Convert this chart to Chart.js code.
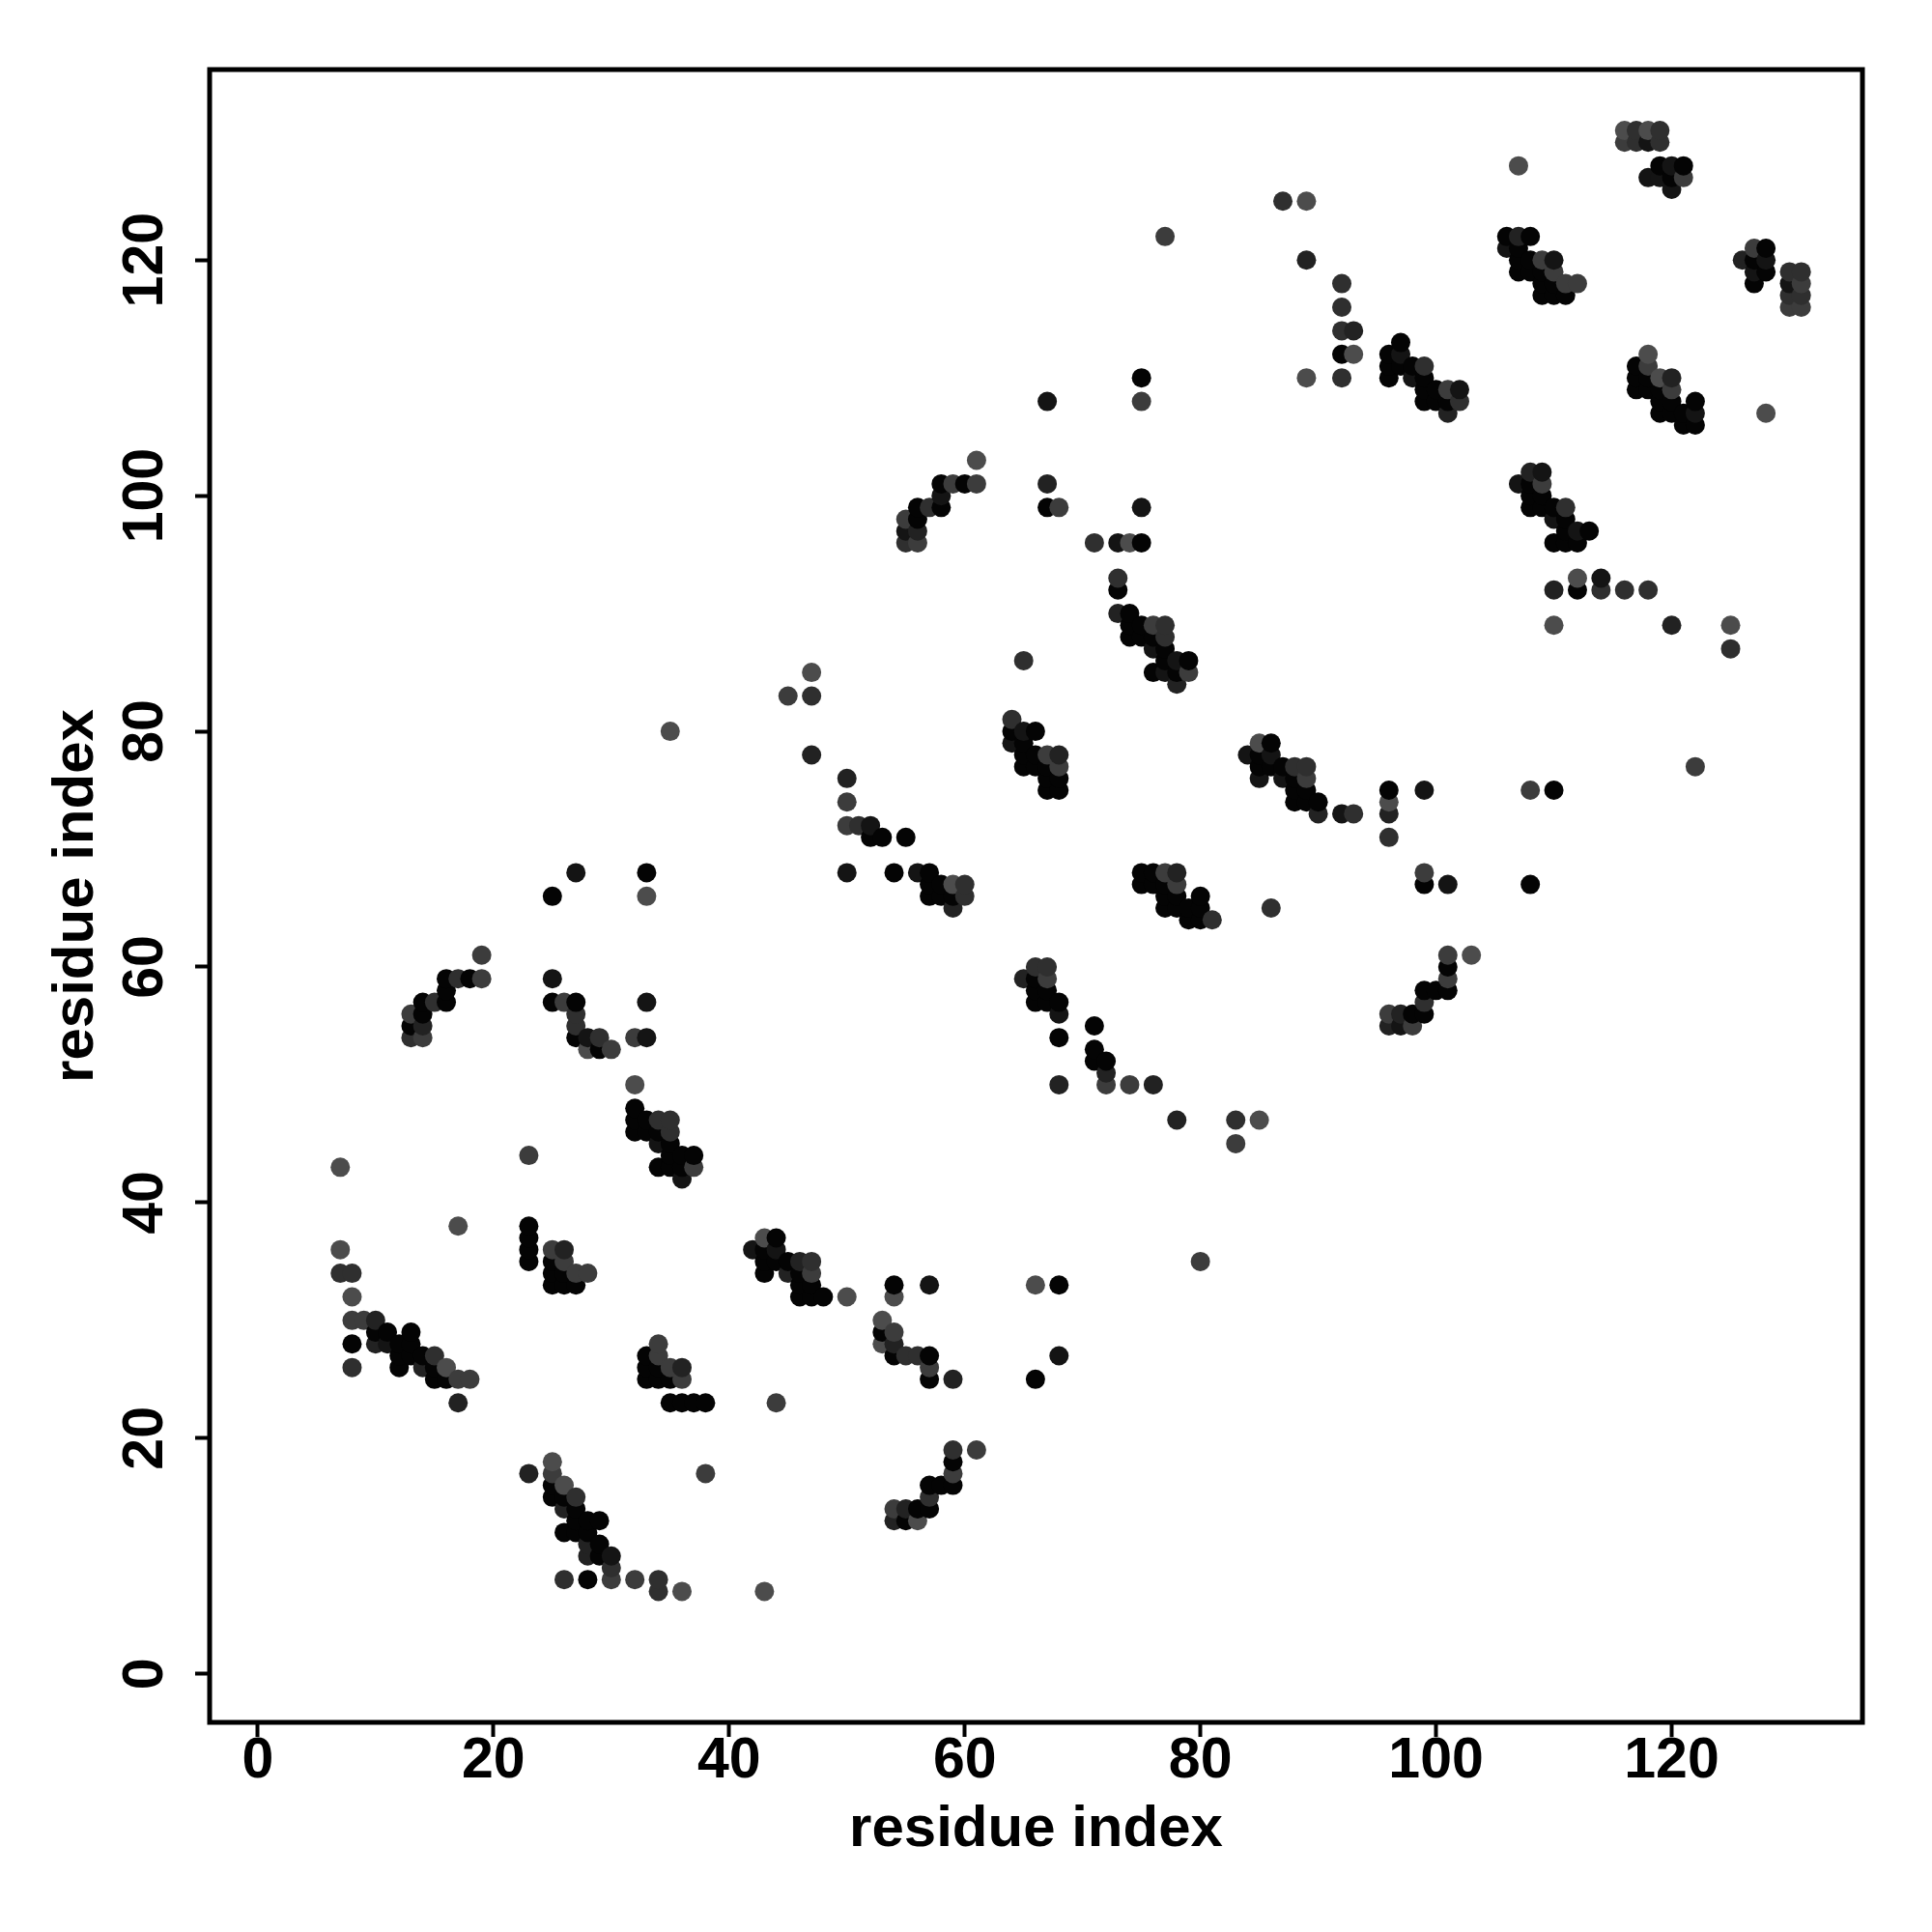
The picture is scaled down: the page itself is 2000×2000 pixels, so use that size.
<!DOCTYPE html>
<html>
<head>
<meta charset="utf-8">
<script src="https://cdn.jsdelivr.net/npm/chart.js@4"></script>
<style>html,body{margin:0;padding:0;background:#fff}canvas{display:block}</style>
</head>
<body>
<canvas id="c" width="2000" height="2000"></canvas>
<script>
const tickValues = [0,20,40,60,80,100,120];
const axisTitle = "residue index";
const residueColumns = [7,8,9,10,11,12,13,14,15,16,17,18,19,23,25,26,27,28,29,30,32,33,34,35,36,37,38,42,43,44,45,46,47,48,50,51,52,53,54,55,56,57,58,59,60,61,64,65,66,67,68,71,72,73,74,75,76,77,78,79,80,81,83,84,85,86,87,88,89,90,92,93,96,97,98,99,100,101,102,103,106,107,108,109,110,111,112,113,114,116,117,118,119,120,121,122,125,126,127,128,130,131];
const partnerRows = [
[34,36,43],[26,28,30,32,34],[30],[28,29,30],[28,29],[26,27,28],[27,28,29,54,55,56],[26,27,54,55,56,57],[25,26,27,57],[25,26,57,58,59],
[23,25,38,59],[25,59],[59,61],[17,35,36,37,38,44],[15,16,17,18,33,34,35,36,57,59,66],[8,12,14,15,16,33,34,35,36,57],[12,13,14,15,33,34,54,55,56,57,68],[8,10,11,12,13,34,53,54],[10,11,13,53,54],[8,9,10,53],
[8,46,47,48,50,54],[25,26,27,46,47,54,57,66,68],[7,8,25,26,27,28,43,45,46,47],[23,25,26,43,44,45,46,47,80],[7,23,25,26,42,43,44],[23,43,44],[17,23],[36],[7,34,35,36,37],[23,35,36,37],
[34,35,83],[32,33,34,35],[32,33,34,35,78,83,85],[32],[32,68,72,74,76],[72],[71,72],[28,29,30,71],[13,14,27,28,29,32,33,68],[13,14,27,71,96,97,98],
[13,14,27,68,96,97,98,99],[14,15,16,25,26,27,33,66,67,68,99],[16,66,67,99,100,101],[16,17,18,19,25,65,66,67,101],[66,67,101],[19,101,103],[79,80,81],[59,77,78,79,80,86],[25,33,57,58,59,60,77,78,80],[57,58,59,60,75,76,77,78,99,101,108],
[27,33,50,54,56,57,75,76,77,78,99],[52,53,55,96],[50,51,52],[90,92,93,96],[50,88,89,90,96],[67,68,88,89,96,99,108,110],[50,67,68,85,87,88,89],[65,66,67,68,85,86,87,88,89,122],[47,65,66,67,68,84,85,86],[64,65,85,86],
[35,64,65,66],[64],[45,47],[78],[47,76,77,78,79],[65,77,78,79],[76,77,125],[74,75,76,77],[74,75,76,77,110,120,125],[73,74],
[73,110,112,114,116,118],[73,112,114],[55,56,71,73,74,75,110,111,112],[55,56,111,112,113],[55,56,110,111],[56,57,58,67,68,75,108,109,110,111],[58,108,109],[58,59,60,61,67,107,108,109],[108,109],[61],
[121,122],[101,119,120,121,122,128],[67,75,99,100,101,102,119,120,122],[99,100,101,102,117,118,119,120],[75,89,92,96,98,99,117,118,119,120],[96,97,98,99,117,118],[92,93,96,97,118],[97],[92,93],[92,130,131],
[109,110,111,130,131],[92,109,110,111,112,127,130,131],[107,108,109,110,127,128,130,131],[89,107,108,109,110,126,127,128],[106,107,127,128],[77,106,107,108],[87,89],[120],[118,119,120,121],[107,119,120,121],
[116,117,118,119],[116,117,118,119]
];
const shadeRows = [
[3,5,5],[3,0,4,5,3],[4],[2,0,2],[1,0],[0,0,0],[0,0,0,3,0,4],[2,0,4,2,0,0],[0,0,3,3],[0,5,0,0,0],
[2,4,5,3],[4,0],[4,4],[2,0,0,0,0,4],[0,0,4,5,0,0,0,4,0,1,0],[3,0,2,0,5,0,0,4,2,4],[0,0,0,3,0,4,0,3,3,0,1],[0,2,2,0,0,4,5,1],[0,0,0,0,3],[4,3,1,4],
[4,0,0,0,5,4],[0,0,0,0,0,1,1,5,0],[3,3,0,0,4,4,0,1,0,3],[0,0,4,0,0,0,3,3,5],[5,0,4,2,1,0,0],[0,4,0],[4,0],[1],[5,0,0,0,5],[4,0,1,0],
[2,0,4],[0,0,0,2],[0,0,4,3,2,3,5],[0],[5,1,4,4,2],[3],[0,1],[5,0,5,0],[2,4,0,2,4,5,0,0],[0,2,3,0,3,1,4],
[5,0,3,1,4,2,0,0],[0,3,0,0,4,0,1,0,0,0,3],[0,0,0,0,1,0],[0,4,0,3,2,2,0,5,4],[3,3,0],[4,4,5],[1,0,3],[2,0,0,0,1,3],[0,5,0,0,0,3,0,0,0],[0,0,4,3,0,0,0,4,0,2,1],
[1,0,2,0,1,0,0,0,4,2,4],[0,0,0,3],[4,2,0],[2,0,3,1],[4,0,0,0,5],[0,0,0,0,0,1,4,0],[2,0,0,0,1,0,4],[0,0,0,4,1,0,0,3,3,4],[2,0,0,4,2,2,0,1],[0,0,4,0],
[4,0,0,0],[3],[4,3],[1],[5,1,0,0,5],[3,0,1,0],[1,0,3],[0,0,0,3],[0,0,4,3,5,2,5],[2,0],
[1,3,0,3,3,3],[3,5,2],[2,4,3,2,5,0,0,0,0],[1,2,0,1,0],[4,0,1,0],[0,3,0,0,4,1,0,0,0,3],[0,0,0],[0,4,0,4,1,2,0,4],[3,1],[5],
[1,0],[1,0,0,0,2,5],[0,4,0,0,0,2,0,0,0],[0,0,4,1,0,0,0,4],[0,5,2,0,1,0,0,0,4,1],[0,0,0,3,0,4],[0,5,0,1,4],[0],[3,1],[3,4,5],
[0,0,0,3,3],[3,0,0,4,5,1,1,5],[0,0,0,5,1,0,3,3],[2,0,0,4,2,1,0,1],[0,0,4,0],[4,0,1,0],[3,5],[2],[0,1,0,4],[5,0,1,0],
[4,3,1,3],[4,3,4,3]
];
const grayPalette = ["#040404","#141414","#222222","#2f2f2f","#3c3c3c","#4c4c4c"];

const points = [], colors = [];
residueColumns.forEach((x, i) => {
  partnerRows[i].forEach((y, j) => {
    points.push({x, y});
    colors.push(grayPalette[shadeRows[i][j]]);
  });
});

const titleFont = {family: '"Liberation Sans", Arial, sans-serif', size: 60, weight: 'bold', lineHeight: 1.2};
const tickFont = {family: '"Liberation Sans", Arial, sans-serif', size: 59, weight: 'bold', lineHeight: 1.2};
const fixedTicks = s => { s.ticks = tickValues.map(v => ({value: v})); };
const gridSpec = {drawOnChartArea: false, drawTicks: true, tickLength: 15, tickWidth: 4, tickColor: '#000', color: '#000'};
const frame = {
  id: 'frame',
  afterDatasetsDraw(chart) {
    const a = chart.chartArea, g = chart.ctx;
    g.save();
    g.strokeStyle = '#000';
    g.lineWidth = 5;
    g.strokeRect(a.left, a.top, a.right - a.left, a.bottom - a.top);
    g.restore();
  }
};

new Chart(document.getElementById('c'), {
  type: 'scatter',
  data: {datasets: [{
    data: points,
    pointRadius: 10,
    pointHoverRadius: 10,
    pointBorderWidth: 0,
    pointBackgroundColor: colors,
    showLine: false,
    clip: false
  }]},
  plugins: [frame],
  options: {
    responsive: false,
    animation: false,
    events: [],
    layout: {autoPadding: false, padding: {left: 0, top: 72, right: 72, bottom: 0}},
    plugins: {legend: {display: false}, tooltip: {enabled: false}},
    scales: {
      x: {
        type: 'linear', position: 'bottom', min: -4.09, max: 136.19,
        afterBuildTicks: fixedTicks,
        afterFit: s => { s.height = 217; },
        grid: gridSpec,
        border: {display: false},
        ticks: {autoSkip: false, maxRotation: 0, minRotation: 0, color: '#000', font: tickFont, padding: -10,
                callback: v => String(v)},
        title: {display: true, text: axisTitle, color: '#000', font: titleFont, padding: {top: 0, bottom: 70}}
      },
      y: {
        type: 'linear', position: 'left', min: -4.12, max: 136.17,
        afterBuildTicks: fixedTicks,
        afterFit: s => { s.width = 217; },
        grid: gridSpec,
        border: {display: false},
        ticks: {autoSkip: false, minRotation: 90, maxRotation: 90, crossAlign: 'center', color: '#000', font: tickFont, padding: 1,
                callback: v => String(v)},
        title: {display: true, text: axisTitle, color: '#000', font: titleFont, padding: {top: 43, bottom: 0}}
      }
    }
  }
});
</script>
</body>
</html>
